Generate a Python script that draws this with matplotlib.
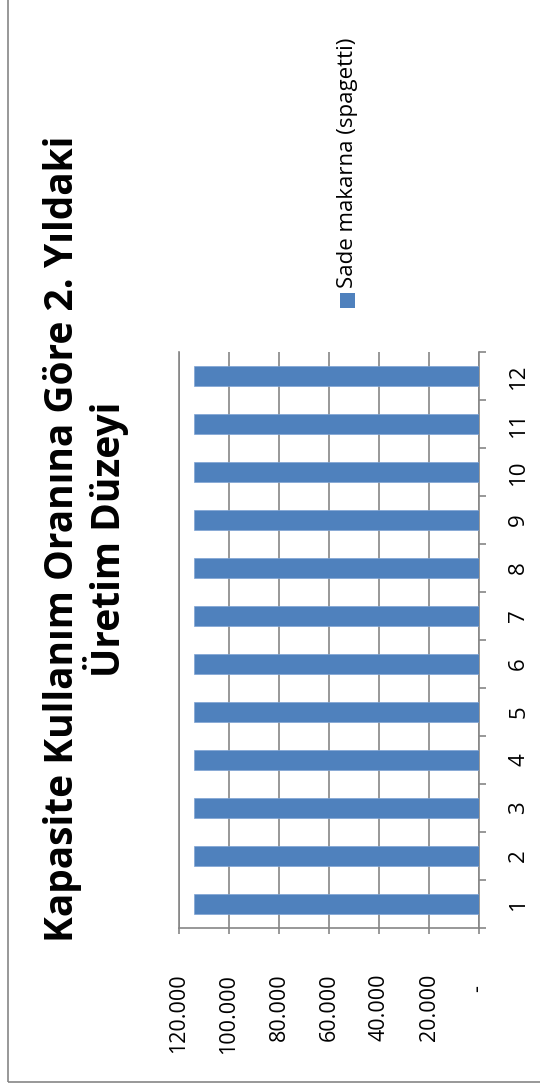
import matplotlib
matplotlib.use("Agg")
import matplotlib.pyplot as plt
from matplotlib.patches import Rectangle
from matplotlib.ticker import FixedLocator

categories = [str(i) for i in range(1, 13)]
values = [114000] * 12
value_ticks = [0, 20000, 40000, 60000, 80000, 100000, 120000]
value_tick_labels = ["-  ", "20.000", "40.000", "60.000", "80.000", "100.000", "120.000"]
title = "Kapasite Kullanım Oranına Göre 2. Yıldaki\nÜretim Düzeyi"
series_name = "Sade makarna (spagetti)"

W, H = 540, 1086
DPI = 100
BAR_COLOR = "#4F81BD"
GRID = "#868686"
FONT = ["Open Sans", "DejaVu Sans"]

plt.rcParams['font.family'] = FONT

fig = plt.figure(figsize=(W / DPI, H / DPI), dpi=DPI)

def fx(px):
    return px / W

def fy(py):
    return 1 - py / H

# plot area
x0, x1 = 179, 479
y0, y1 = 352, 928
ax = fig.add_axes([fx(x0), fy(y1), fx(x1) - fx(x0), fy(y0) - fy(y1)])

pos = list(range(1, len(categories) + 1))
ax.barh(pos, values, height=0.4, color=BAR_COLOR, edgecolor="#7FA3D3", linewidth=0.5, zorder=3)

ax.set_xlim(120000, 0)
ax.set_ylim(0.5, len(categories) + 0.5)

ax.grid(axis='x', color=GRID, linewidth=1.2, zorder=0)
ax.set_axisbelow(True)

for s in ['bottom', 'right', 'left']:
    ax.spines[s].set_color(GRID)
    ax.spines[s].set_linewidth(1.2)
ax.spines['top'].set_visible(False)

# value axis (bottom)
ax.xaxis.set_major_locator(FixedLocator(value_ticks))
ax.set_xticklabels(value_tick_labels)
ax.tick_params(axis='x', direction='out', length=4, width=1.2, color=GRID, pad=29,
               labelsize=15.5, labelcolor='black')
for lab in ax.get_xticklabels():
    lab.set_rotation(90)
    lab.set_va('top')
    lab.set_ha('center')

# category axis (right)
ax.yaxis.tick_right()
ax.yaxis.set_major_locator(FixedLocator([i + 0.5 for i in range(0, len(categories) + 1)]))
ax.yaxis.set_minor_locator(FixedLocator(pos))
ax.yaxis.set_major_formatter(plt.NullFormatter())
ax.set_yticks(pos, minor=True)
ax.set_yticklabels(categories, minor=True)
ax.tick_params(axis='y', which='major', direction='out', length=5, width=1.2, color=GRID,
               left=False, right=True)
ax.tick_params(axis='y', which='minor', length=0, pad=21, labelsize=16,
               left=False, right=True, labelright=True, labelleft=False)
for lab in ax.get_yticklabels(minor=True):
    lab.set_rotation(90)
    lab.set_va('center')
    lab.set_ha('left')

# title (rotated)
fig.text(fx(86), fy(539), title, rotation=90, ha='center', va='center',
         multialignment='center', fontsize=28, fontweight='bold', linespacing=1.05)

# legend (rotated)
fig.add_artist(Rectangle((fx(340), fy(308)), fx(15), 15 / H, transform=fig.transFigure,
                         facecolor=BAR_COLOR, edgecolor='none'))
fig.text(fx(348), fy(288), series_name, rotation=90, ha='center', va='bottom', fontsize=16)

# outer chart border
fig.add_artist(Rectangle((fx(8), fy(1082)), 1.5, 1.5, transform=fig.transFigure,
                         fill=False, edgecolor=GRID, linewidth=1.2))

fig.savefig("out.png", dpi=DPI)
